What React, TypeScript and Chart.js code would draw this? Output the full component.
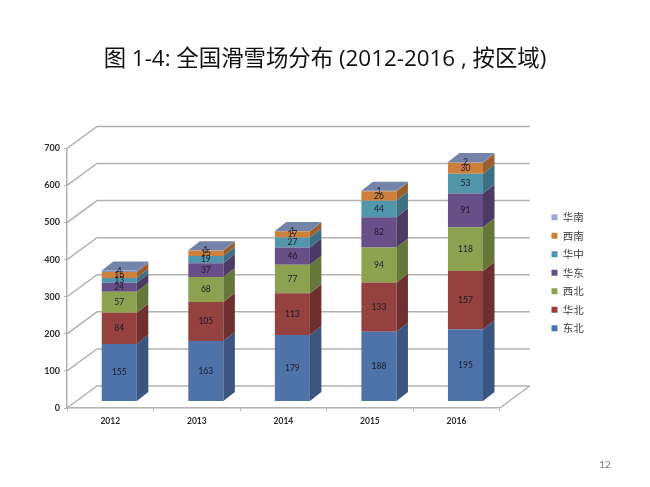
import React, { useEffect, useRef } from "react";
import { Chart, registerables } from "chart.js";

Chart.register(...registerables);

const years = ["2012", "2013", "2014", "2015", "2016"];
const dongbei = [155, 163, 179, 188, 195];
const huabei = [84, 105, 113, 133, 157];
const xibei = [57, 68, 77, 94, 118];
const huadong = [24, 37, 46, 82, 91];
const huazhong = [13, 19, 27, 44, 53];
const xinan = [16, 15, 17, 26, 30];
const huanan = [4, 1, 1, 1, 2];

const seriesNames = ["东北", "华北", "西北", "华东", "华中", "西南", "华南"];
const seriesValues = [dongbei, huabei, xibei, huadong, huazhong, xinan, huanan];
const frontColors = ["#4F72A8", "#94413F", "#8DA250", "#674F88", "#5296AC", "#CD7F3C", "#8496BE"];
const sideColors = ["#3B5480", "#6E302E", "#677739", "#4B3A64", "#3C7082", "#9A5F2C", "#66749A"];
const legendColors = ["#4F72A8", "#94413F", "#8DA250", "#674F88", "#5296AC", "#CD7F3C", "#A0A8CF"];
const topColor = "#7484A9";
const titleText = "图 1-4: 全国滑雪场分布 (2012-2016 , 按区域)";
const pageNumber = "12";

const gridColor = "#B2B2B2";
const wallDx = 30;
const wallDy = -22;
const barShiftX = 9;
const barShiftY = -6.5;
const depthX = 11.5;
const depthY = -9;

const scene3d = {
  id: "scene3d",
  afterLayout(chart: any) {
    const lg = chart.legend;
    if (lg) {
      const dx = 543.5 - lg.left;
      const dy = 204 - lg.top;
      lg.left += dx;
      lg.right += dx;
      lg.top += dy;
      lg.bottom += dy;
      (lg.legendHitBoxes || []).forEach((h: any) => {
        h.left += dx;
        h.top += dy;
      });
    }
    const tb = chart.titleBlock;
    if (tb) {
      const shift = 325 - (tb.left + tb.right) / 2;
      tb.left += shift;
      tb.right += shift;
    }
  },
  beforeDatasetsDraw(chart: any) {
    const { ctx, chartArea, scales } = chart;
    const { left, right, bottom } = chartArea;
    ctx.save();
    ctx.strokeStyle = gridColor;
    ctx.lineWidth = 1.5;
    scales.y.ticks.forEach((t: any) => {
      const py = scales.y.getPixelForValue(t.value);
      ctx.beginPath();
      ctx.moveTo(left, py);
      ctx.lineTo(left + wallDx, py + wallDy);
      ctx.lineTo(right + wallDx, py + wallDy);
      ctx.stroke();
    });
    ctx.beginPath();
    ctx.moveTo(right, bottom);
    ctx.lineTo(right + wallDx, bottom + wallDy);
    ctx.stroke();
    ctx.restore();

    ctx.save();
    ctx.translate(barShiftX, barShiftY);
  },
  afterDatasetsDraw(chart: any) {
    const { ctx } = chart;
    const metas = chart.data.datasets.map((_: any, i: number) => chart.getDatasetMeta(i));
    metas.forEach((meta: any, di: number) => {
      meta.data.forEach((bar: any) => {
        const r = bar.x + bar.width / 2;
        ctx.fillStyle = sideColors[di];
        ctx.beginPath();
        ctx.moveTo(r, bar.base);
        ctx.lineTo(r + depthX, bar.base + depthY);
        ctx.lineTo(r + depthX, bar.y + depthY);
        ctx.lineTo(r, bar.y);
        ctx.closePath();
        ctx.fill();
        if (di === metas.length - 1) {
          const l = bar.x - bar.width / 2;
          ctx.fillStyle = topColor;
          ctx.beginPath();
          ctx.moveTo(l, bar.y);
          ctx.lineTo(r, bar.y);
          ctx.lineTo(r + depthX, bar.y + depthY);
          ctx.lineTo(l + depthX, bar.y + depthY);
          ctx.closePath();
          ctx.fill();
        }
      });
    });
    ctx.font = '8.5px "Lato"';
    ctx.textAlign = "center";
    ctx.textBaseline = "middle";
    ctx.fillStyle = "#1B1B2B";
    metas.forEach((meta: any, di: number) => {
      meta.data.forEach((bar: any, i: number) => {
        ctx.fillText(String(seriesValues[di][i]), bar.x, (bar.y + bar.base) / 2);
      });
    });
    ctx.restore();

    ctx.save();
    ctx.font = '10px "Lato"';
    ctx.fillStyle = "#7A7A7A";
    ctx.textAlign = "center";
    ctx.textBaseline = "middle";
    ctx.fillText(pageNumber, 605, 465);
    ctx.restore();
  },
};

export default function App() {
  const ref = useRef<HTMLCanvasElement>(null);
  useEffect(() => {
    const chart = new Chart(ref.current as HTMLCanvasElement, {
      type: "bar",
      data: {
        labels: years,
        datasets: seriesNames.map((name, i) => ({
          label: name,
          data: seriesValues[i],
          backgroundColor: frontColors[i],
          borderWidth: 0,
          stack: "all",
          categoryPercentage: 1,
          barPercentage: 0.405,
        })),
      },
      options: {
        responsive: false,
        animation: false,
        layout: { padding: { left: 30, right: 100, top: 0, bottom: 0 } },
        plugins: {
          title: {
            display: true,
            text: titleText,
            color: "#111111",
            font: { family: '"Open Sans", "Noto Sans CJK SC"', size: 22.4, weight: "normal", lineHeight: 1.2 },
            padding: { top: 46.4, bottom: 75.1 },
          },
          legend: {
            display: true,
            position: "right",
            align: "start",
            labels: {
              boxWidth: 6,
              boxHeight: 6,
              padding: 8,
              color: "#404040",
              font: { family: '"Noto Sans CJK SC"', size: 10.5 },
              generateLabels: () =>
                seriesNames
                  .map((n, i) => ({
                    text: n,
                    fillStyle: legendColors[i],
                    strokeStyle: legendColors[i],
                    lineWidth: 0,
                    datasetIndex: i,
                    fontColor: "#404040",
                  }))
                  .reverse(),
            },
          },
          tooltip: { enabled: false },
        },
        scales: {
          x: {
            stacked: true,
            offset: true,
            afterFit: (s: any) => {
              s.height = 79;
            },
            border: { display: true, color: gridColor, width: 1.5 },
            grid: { offset: true, drawOnChartArea: false, drawTicks: true, tickLength: 3, color: gridColor },
            ticks: {
              color: "#2A2A2A",
              font: { family: '"Lato"', size: 8.5, weight: "bold" },
              maxRotation: 0,
              padding: 5,
            },
          },
          y: {
            stacked: true,
            min: 0,
            max: 700,
            afterFit: (s: any) => {
              s.width = 37;
            },
            border: { display: true, color: gridColor, width: 1.5 },
            grid: { drawOnChartArea: false, tickLength: 3, color: gridColor },
            ticks: {
              stepSize: 100,
              color: "#2A2A2A",
              font: { family: '"Lato"', size: 9, weight: "bold" },
              padding: 4,
            },
          },
        },
      },
      plugins: [scene3d],
    } as any);
    return () => chart.destroy();
  }, []);
  return (
    <canvas
      ref={ref}
      width={650}
      height={487}
      style={{ position: "fixed", left: 0, top: 0, width: 650, height: 487, display: "block", background: "#fff" }}
    />
  );
}
